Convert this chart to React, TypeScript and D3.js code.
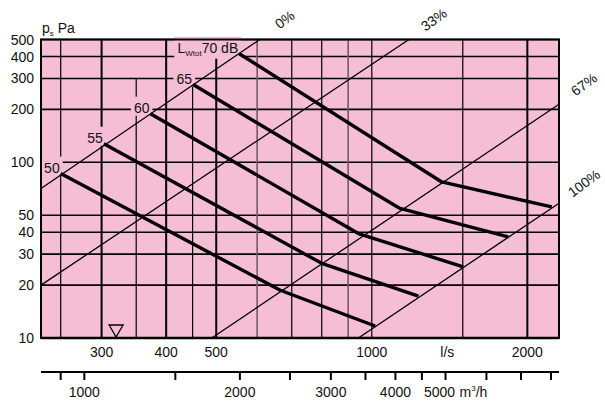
import React from 'react';
import * as d3 from 'd3';

// static pressure axis (Pa) and airflow axes (l/s, m3/h)
const pressureTicks = [10, 20, 30, 40, 50, 100, 200, 300, 400, 500];
const flowLabels = [300, 400, 500, 1000, 2000];
const flowGrid = [250, 300, 350, 400, 450, 500, 600, 700, 800, 900, 1000, 1500, 2000];
const flowGridTop = new Map([[350, 300], [450, 300]]);
const m3hTicks = [900, 1000, 1500, 2000, 2500, 3000, 3500, 4000, 4500, 5000, 6000, 7000, 8000];
const m3hLabels = [1000, 2000, 3000, 4000, 5000];

// sound power level curves, LWtot dB: [l/s, Pa]
const levelNames = ['50', '55', '60', '65', '70 dB'];
const levelCurves: [number, number][][] = [
  [[250, 86.3], [665, 18.7], [1015, 11.7]],
  [[303, 127.6], [800, 26.6], [1231, 17.3]],
  [[373, 189], [942, 39.3], [1503, 25.4]],
  [[451, 277], [1134, 54.6], [1837, 37.6]],
  [[554, 415], [1366, 77.3], [2230, 55.7]],
];

// damper position lines
const damperNames = ['0%', '33%', '67%', '100%'];
const damperLines: [number, number][][] = [
  [[229, 71], [607, 500]],
  [[229, 20], [1180, 500]],
  [[490, 10], [2303, 214]],
  [[942, 10], [2303, 58.5]],
];

const markerFlow = 320;

const PINK = '#f6bed5';
const FONT = '"Liberation Sans", Arial, sans-serif';

export default function App() {
  const x = d3.scaleLog().domain([229, 2303]).range([41, 559]);
  const xm = d3.scaleLog().domain([229 * 3.6, 2303 * 3.6]).range([41, 559]);
  const y = d3.scaleLog().domain([10, 500]).range([338, 39.5]);
  const line = d3.line<[number, number]>().x(d => x(d[0])).y(d => y(d[1]));

  const left = x.range()[0];
  const right = x.range()[1];
  const top = y.range()[1];
  const bottom = y.range()[0];

  const heavyX = new Set([300, 400, 500, 2000]);
  const greyX = new Set([600, 900]);

  const labelWidth = (i: number) => (i === 4 ? 61 : 15.6);

  return (
    <svg width={605} height={403} style={{ position: 'absolute', left: 0, top: 0, background: '#fff' }}
      fontFamily={FONT} fontSize={14}>
      <defs>
        <clipPath id="plot">
          <rect x={left} y={top} width={right - left} height={bottom - top} />
        </clipPath>
      </defs>
      <rect x={left} y={top} width={right - left} height={bottom - top} fill={PINK} />

      {pressureTicks.map(p => (
        <line key={'h' + p} x1={left} x2={right} y1={y(p)} y2={y(p)} stroke="#000" strokeWidth={1.6} />
      ))}
      {flowGrid.map(q => (
        <line key={'v' + q} x1={x(q)} x2={x(q)} y1={bottom} y2={y(flowGridTop.get(q) ?? 500)}
          stroke={greyX.has(q) ? '#76586a' : '#000'}
          strokeWidth={heavyX.has(q) ? 2 : greyX.has(q) ? 1.6 : 1.2} />
      ))}

      {/* knock-out boxes behind the curve labels */}
      {levelCurves.map((c, i) => {
        const sx = x(c[0][0]);
        const sy = y(c[0][1]);
        const w = labelWidth(i);
        return (
          <rect key={'b' + i} x={sx - 4 - w} y={sy - 17} width={w + 6}
            height={i === 4 ? 22 : 19} fill={PINK} />
        );
      })}

      <g clipPath="url(#plot)">
        {damperLines.map((d, i) => (
          <path key={'d' + i} d={line(d) ?? ''} fill="none" stroke="#000" strokeWidth={1.3} />
        ))}
      </g>
      {levelCurves.map((c, i) => (
        <path key={'c' + i} d={line(c) ?? ''} fill="none" stroke="#000" strokeWidth={3.4}
          strokeLinejoin="round" />
      ))}

      <path d={`M${x(markerFlow) - 7},${bottom - 13}L${x(markerFlow) + 7},${bottom - 13}L${x(markerFlow)},${bottom - 1}Z`}
        fill="none" stroke="#000" strokeWidth={1.3} />

      <rect x={left} y={top} width={right - left} height={bottom - top} fill="none" stroke="#000" strokeWidth={2} />
      <line x1={left} x2={right} y1={bottom} y2={bottom} stroke="#000" strokeWidth={2.6} />

      {/* curve labels */}
      {levelCurves.map((c, i) => {
        const sx = x(c[0][0]) - 1;
        const sy = y(c[0][1]) - 1;
        if (i === 4) {
          return (
            <text key={'l' + i} x={sx} y={sy} textAnchor="end" fill="#111">
              L<tspan fontSize={8} dy={3}>Wtot</tspan><tspan dy={-3}>{levelNames[i]}</tspan>
            </text>
          );
        }
        return <text key={'l' + i} x={sx} y={sy} textAnchor="end" fill="#111">{levelNames[i]}</text>;
      })}

      {/* damper labels */}
      {damperLines.map((d, i) => {
        const end = d[d.length - 1];
        const ex = Math.min(x(end[0]), right);
        const ey = Math.max(y(end[1]), top);
        const lx = ex + 25;
        const ly = ey - 20;
        return (
          <text key={'dl' + i} x={lx} y={ly} textAnchor="middle" dominantBaseline="central"
            transform={`rotate(-36 ${lx} ${ly})`} fill="#111">{damperNames[i]}</text>
        );
      })}

      {/* pressure axis */}
      {pressureTicks.map(p => (
        <text key={'yt' + p} x={34} y={y(p) + 5} textAnchor="end" fill="#111">{p}</text>
      ))}
      <text x={42} y={33} fill="#111">
        p<tspan fontSize={8} dy={3}>s</tspan><tspan dy={-3}> Pa</tspan>
      </text>

      {/* l/s axis */}
      {flowLabels.map(q => (
        <text key={'xt' + q} x={x(q)} y={357} textAnchor="middle" fill="#111">{q}</text>
      ))}
      <text x={x(1400)} y={357} textAnchor="middle" fill="#111">l/s</text>

      {/* m3/h axis */}
      <line x1={left} x2={right} y1={372} y2={372} stroke="#000" strokeWidth={2} />
      {m3hTicks.map(m => (
        <line key={'mt' + m} x1={xm(m)} x2={xm(m)} y1={372} y2={380} stroke="#000" strokeWidth={2} />
      ))}
      {m3hLabels.map(m => (
        <text key={'ml' + m} x={xm(m) - (m === 5000 ? 6 : 0)} y={397} textAnchor="middle" fill="#111">{m}</text>
      ))}
      <text x={xm(5000) + 14} y={397} fill="#111">
        m<tspan fontSize={8} dy={-6}>3</tspan><tspan dy={6}>/h</tspan>
      </text>
    </svg>
  );
}
